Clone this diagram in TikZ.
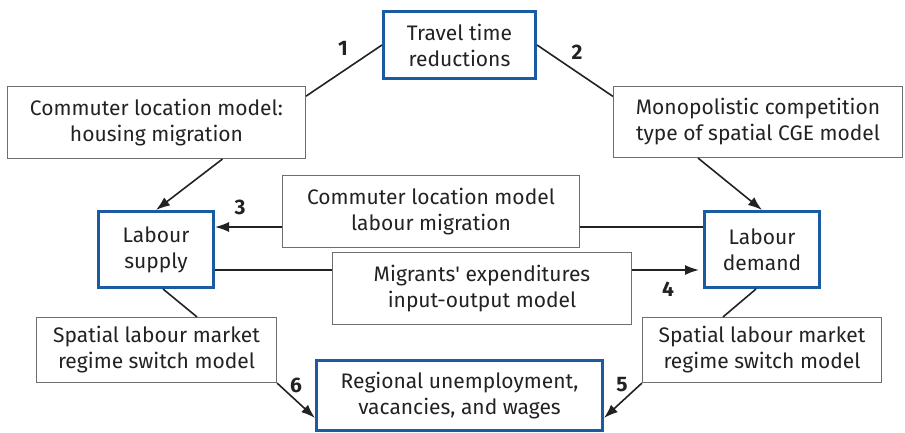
\documentclass[tikz,border=0pt]{standalone}
\usepackage{fontspec}
\setmainfont{Fira Sans}
\usetikzlibrary{arrows.meta,calc}
\definecolor{tblue}{HTML}{1A5BA3}
\definecolor{tgray}{HTML}{6E6E6E}
\definecolor{tink}{HTML}{222222}

\begin{document}
\begin{tikzpicture}[x=1pt, y=-1pt,
  every node/.style={font=\fontsize{21}{26}\selectfont, text=tink, align=center, inner sep=0pt},
  keybox/.style={draw=tblue, line width=3pt},
  modelbox/.style={draw=tgray, line width=1.1pt},
  link/.style={draw=tink, line width=1.6pt},
  arr/.style={link, -{Latex[length=14pt,width=10pt]}},
  num/.style={font=\fontsize{21}{24}\selectfont\bfseries}]

  \useasboundingbox (0,0) rectangle (905,433);

  % ---- Top: the shock ----
  \node[keybox, minimum width=152pt, minimum height=67pt] (travel) at (459.5,45)
    {Travel time\\reductions};

  % ---- Models of the first round ----
  \node[modelbox, minimum width=298pt, minimum height=72pt] (housing) at (156.5,122.5)
    {Commuter location model:\\housing migration};
  \node[modelbox, minimum width=289pt, minimum height=71pt] (cge) at (758,122)
    {Monopolistic competition\\type of spatial CGE model};

  % ---- Labour market sides ----
  \node[keybox, minimum width=115pt, minimum height=76pt] (supply) at (156,249.5)
    {Labour\\supply};
  \node[keybox, minimum width=115pt, minimum height=76pt] (demand) at (762,249.5)
    {Labour\\demand};

  % ---- Models between supply and demand ----
  \node[modelbox, minimum width=297pt, minimum height=72pt] (labmig) at (431,211.5)
    {Commuter location model\\labour migration};
  \node[modelbox, minimum width=299pt, minimum height=72pt] (expend) at (482,288.5)
    {Migrants\textquotesingle\ expenditures\\input-output model};

  % ---- Regime switch models ----
  \node[modelbox, minimum width=240pt, minimum height=65pt] (spatialL) at (156.5,350)
    {Spatial labour market\\regime switch model};
  \node[modelbox, minimum width=239pt, minimum height=65pt] (spatialR) at (762,350)
    {Spatial labour market\\regime switch model};

  % ---- Outcome ----
  \node[keybox, minimum width=286pt, minimum height=70pt] (regional) at (459.5,395.5)
    {Regional unemployment,\\vacancies, and wages};

  % ---- Links 1 and 2 ----
  \draw[link] (travel.west) -- (housing.10);
  \draw[link] (travel.east) -- (cge.170);
  \draw[arr] (housing.-29.5) -- (supply.north);
  \draw[arr] (cge.-149) -- (demand.north);

  % ---- Link 3 (labour migration) ----
  \coordinate (m3) at ([yshift=-15.5pt]labmig.west);
  \coordinate (m3r) at ([yshift=-15.5pt]labmig.east);
  \draw[arr] (m3) -- (m3 -| supply.east);
  \draw[link] (m3r) -- (m3r -| demand.west);

  % ---- Link 4 (expenditures) ----
  \coordinate (m4) at ([yshift=18.5pt]expend.west);
  \coordinate (m4r) at ([yshift=18.5pt]expend.east);
  \draw[link] (m4 -| supply.east) -- (m4);
  \draw[arr, shorten >=4pt] (m4r) -- (m4r -| demand.west);

  % ---- Links 5 and 6 ----
  \draw[link] ([xshift=7pt]supply.south) -- ([xshift=40.5pt]spatialL.north);
  \draw[link] ([xshift=-6pt]demand.south) -- ([xshift=-39pt]spatialR.north);
  \draw[arr] (spatialL.south east) -- ([yshift=-22.5pt]regional.west);
  \draw[arr] (spatialR.south west) -- ([yshift=-22.5pt]regional.east);

  % ---- Numbers ----
  \node[num] (n1) at (343,48) {1};
  \node[num] (n2) at (577,52) {2};
  \node[num] (n3) at (240,207) {3};
  \node[num] (n4) at (668,289) {4};
  \node[num] (n5) at (622,385) {5};
  \node[num] (n6) at (296,385) {6};

\end{tikzpicture}
\end{document}
